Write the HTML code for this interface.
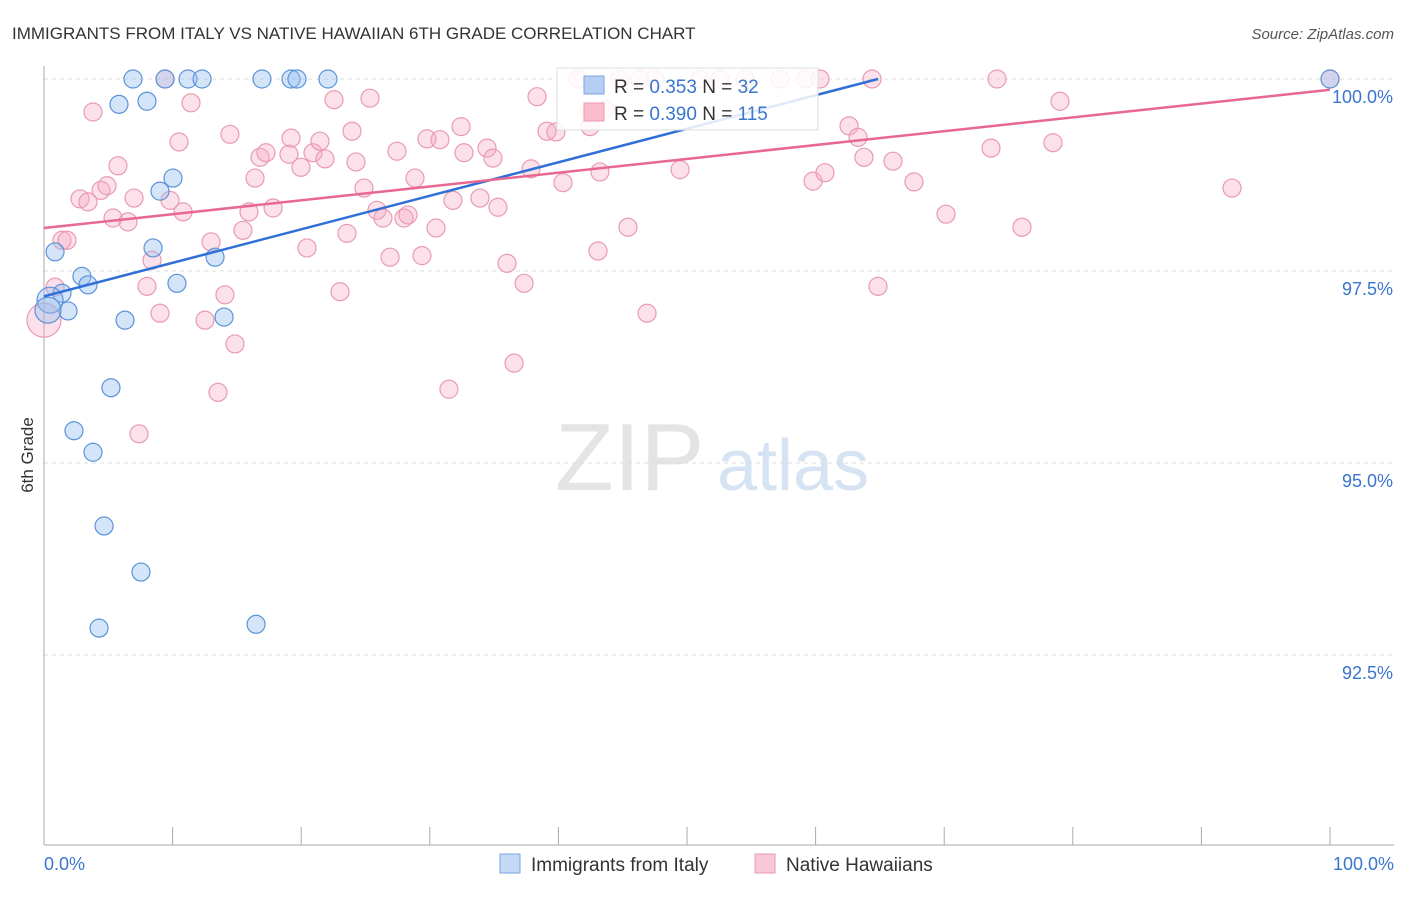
<!DOCTYPE html>
<html><head><meta charset="utf-8"><style>
body{margin:0;background:#fff;font-family:"Liberation Sans",sans-serif;}
svg text{font-family:"Liberation Sans",sans-serif;}
</style></head><body>
<svg id="chart" width="1406" height="892" xmlns="http://www.w3.org/2000/svg">
<text x="12" y="39" font-size="17" fill="#333">IMMIGRANTS FROM ITALY VS NATIVE HAWAIIAN 6TH GRADE CORRELATION CHART</text>
<text x="1394" y="39" font-size="15" fill="#555" text-anchor="end" font-style="italic">Source: ZipAtlas.com</text>
<g>
<text x="555" y="490" font-size="96" fill="#e4e4e4" font-family="Liberation Serif">ZIP</text>
<text x="717" y="490" font-size="72" fill="#d6e3f3">atlas</text>
</g>
<g id="grid"></g>
<g id="axes"></g>
<g id="pts"></g>
<g id="trend"></g>
<text transform="translate(33,455) rotate(-90)" font-size="17" fill="#333" text-anchor="middle">6th Grade</text>
<g>
<rect x="557" y="68" width="261" height="62" fill="#fff" fill-opacity="0.85" stroke="#ddd"/>
<rect x="584" y="76" width="20" height="18" fill="#b5cff3" stroke="#7aa6e0"/>
<text x="614" y="93" font-size="19" fill="#333">R = <tspan fill="#3a75d0">0.353</tspan>   N = <tspan fill="#3a75d0">  32</tspan></text>
<rect x="584" y="103" width="20" height="18" fill="#f8bccd" stroke="#e99ab2"/>
<text x="614" y="120" font-size="19" fill="#333">R = <tspan fill="#3a75d0">0.390</tspan>   N = <tspan fill="#3a75d0">115</tspan></text>
</g>
<g>
<rect x="500" y="854" width="20" height="19" fill="#c4d9f5" stroke="#7aa6e0"/>
<text x="531" y="871" font-size="19" fill="#333">Immigrants from Italy</text>
<rect x="755" y="854" width="20" height="19" fill="#f9c8d6" stroke="#e99ab2"/>
<text x="786" y="871" font-size="19" fill="#333">Native Hawaiians</text>
</g>
</svg>
<script>
const yTicks=[100,97.5,95,92.5];
const yTickLabels=["100.0%","97.5%","95.0%","92.5%"];
const xTickLabels=["0.0%","100.0%"];
const blueX=[6.92,9.41,11.2,12.29,16.95,19.21,19.67,22.08,100,5.83,8.01,9.02,10.03,0.86,2.95,3.42,1.40,1.87,8.48,13.3,10.34,6.30,14.0,5.21,2.33,3.81,4.67,7.54,4.28,16.49,0.47,0.31];
const blueY=[100,100,100,100,100,100,100,100,100,99.67,99.71,98.54,98.71,97.75,97.43,97.32,97.21,96.98,97.80,97.68,97.34,96.86,96.90,95.98,95.42,95.14,94.18,93.58,92.85,92.90,97.12,96.99];
const pinkX=[0.0,0.86,1.40,1.79,3.81,2.80,3.42,4.43,4.90,5.37,6.53,7.00,5.75,9.41,9.80,10.81,11.43,10.50,8.40,8.01,9.02,7.39,12.99,12.52,14.07,14.85,13.53,14.46,15.47,15.94,16.41,16.80,17.26,17.81,19.21,19.05,19.98,20.45,20.92,21.46,21.85,22.55,23.02,23.56,23.95,24.26,24.88,25.35,25.89,26.36,27.45,27.99,28.30,26.91,28.85,29.39,29.78,30.48,30.79,31.49,31.80,32.43,32.66,34.45,34.91,33.90,35.30,36.00,36.55,37.33,37.87,38.34,39.11,39.81,40.36,41.52,42.46,43.23,43.08,43.62,45.41,46.89,44.79,49.46,47.51,51.01,54.51,59.25,60.34,59.80,60.73,62.60,63.30,63.76,64.85,66.02,67.65,70.14,64.39,73.64,74.11,76.05,78.46,79.00,92.38,100,46.35,42.46,52.57,57.23];
const pinkY=[96.86,97.29,97.90,97.90,99.57,98.44,98.40,98.55,98.61,98.19,98.14,98.45,98.87,100,98.42,98.27,99.69,99.18,97.64,97.30,96.95,95.38,97.88,96.86,97.19,96.55,95.92,99.28,98.03,98.27,98.71,98.98,99.04,98.32,99.23,99.02,98.85,97.80,99.04,99.19,98.96,99.73,97.23,97.99,99.32,98.92,98.58,99.75,98.29,98.19,99.06,98.19,98.23,97.68,98.71,97.70,99.22,98.06,99.21,95.96,98.42,99.38,99.04,99.10,98.97,98.45,98.33,97.60,96.30,97.34,98.83,99.77,99.32,99.31,98.65,100,99.38,98.79,97.76,99.60,98.07,96.95,100,98.82,100,100,100,100,100,98.67,98.78,99.39,99.24,98.98,97.30,98.93,98.66,98.24,100,99.10,100,98.07,99.17,99.71,98.58,100,100,99.57,100,100];
const blueTrendX=[0,64.85], blueTrendY=[97.17,100];
const pinkTrendX=[0,100], pinkTrendY=[98.06,99.86];
const NS="http://www.w3.org/2000/svg";
const X=v=>44+v*12.86, Y=v=>79+(100-v)*76.8;
function mk(tag,parent,attrs){const e=document.createElementNS(NS,tag);for(const k in attrs)e.setAttribute(k,attrs[k]);parent.appendChild(e);return e;}
const grid=document.getElementById('grid'),axes=document.getElementById('axes');
yTicks.forEach((t,i)=>{
 const l=mk('line',grid,{x1:44,x2:1394,y1:Y(t),y2:Y(t),stroke:'#ddd','stroke-dasharray':'4,4'});
 
 
 const tx=mk('text',axes,{x:1393,y:Y(t)+24,'font-size':18,fill:'#3a75d0','text-anchor':'end'});
 tx.textContent=yTickLabels[i];
 
 
});
mk('line',axes,{x1:44,x2:44,y1:66,y2:845,stroke:'#aaa'});
mk('line',axes,{x1:44,x2:1394,y1:845,y2:845,stroke:'#aaa'});
for(let i=0;i<=10;i++){const t=mk('line',axes,{x1:X(i*10),x2:X(i*10),y1:827,y2:845,stroke:'#aaa'});
 
 }
const xl0=mk('text',axes,{x:44,y:870,'font-size':18,fill:'#3a75d0'});xl0.textContent=xTickLabels[0];


const xl1=mk('text',axes,{x:1394,y:870,'font-size':18,fill:'#3a75d0','text-anchor':'end'});xl1.textContent=xTickLabels[1];


const pts=document.getElementById('pts');
pinkX.forEach((x,i)=>{const c=mk('circle',pts,{cx:X(x),cy:Y(pinkY[i]),r:i===0?17:9,fill:'rgba(245,170,195,0.35)',stroke:'#e99ab2','stroke-width':1.2});
 
 });
blueX.forEach((x,i)=>{const c=mk('circle',pts,{cx:X(x),cy:Y(blueY[i]),r:i>=30?13:9,fill:'rgba(150,190,240,0.4)',stroke:'#5a93d8','stroke-width':1.2});
 
 });
const tr=document.getElementById('trend');
const bl=mk('line',tr,{x1:X(blueTrendX[0]),y1:Y(blueTrendY[0]),x2:X(blueTrendX[1]),y2:Y(blueTrendY[1]),stroke:'#2f6fd6','stroke-width':2.5});


const pl=mk('line',tr,{x1:X(pinkTrendX[0]),y1:Y(pinkTrendY[0]),x2:X(pinkTrendX[1]),y2:Y(pinkTrendY[1]),stroke:'#e8688f','stroke-width':2.5});


</script>
</body></html>
